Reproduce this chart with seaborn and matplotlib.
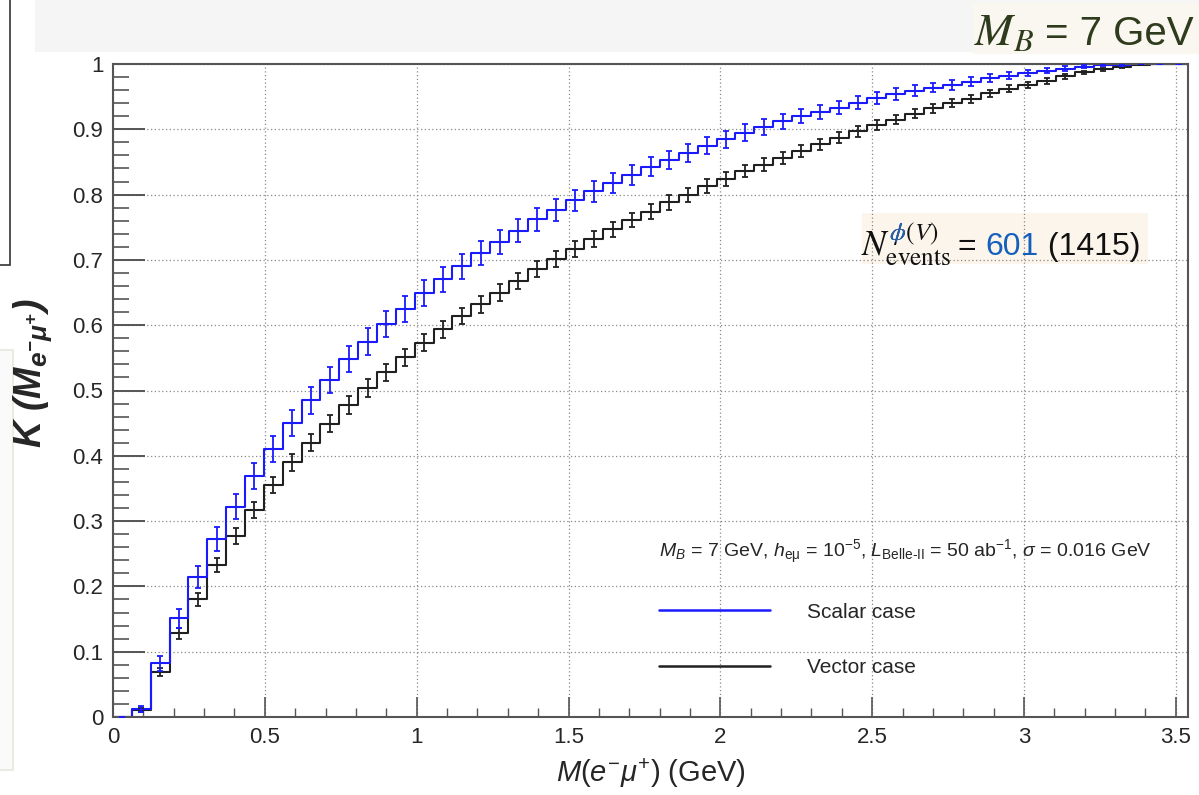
import numpy as np
import pandas as pd
import matplotlib
matplotlib.use("Agg")
import matplotlib.pyplot as plt
from matplotlib.lines import Line2D
from matplotlib.patches import Rectangle
from matplotlib.transforms import Bbox
from matplotlib.ticker import FixedLocator, FixedFormatter, MultipleLocator
import seaborn as sns

# ---------------- data ----------------
x_range = (0.0, 3.54)
n_bins = 57

scalar_k = [0.000, 0.012, 0.082, 0.151, 0.214, 0.272, 0.322, 0.369, 0.410, 0.450,
            0.485, 0.516, 0.548, 0.575, 0.602, 0.625, 0.649, 0.670, 0.690, 0.710,
            0.727, 0.745, 0.762, 0.776, 0.791, 0.805, 0.818, 0.830, 0.843, 0.853,
            0.864, 0.875, 0.885, 0.895, 0.904, 0.912, 0.920, 0.927, 0.933, 0.941,
            0.948, 0.954, 0.959, 0.964, 0.968, 0.973, 0.978, 0.982, 0.986, 0.990,
            0.993, 0.996, 0.998, 0.999, 1.000, 1.000, 1.000]
scalar_err = [0.0000, 0.0044, 0.0112, 0.0146, 0.0167, 0.0182, 0.0191, 0.0197, 0.0201, 0.0203,
              0.0204, 0.0204, 0.0203, 0.0202, 0.0200, 0.0198, 0.0195, 0.0192, 0.0189, 0.0185,
              0.0182, 0.0178, 0.0174, 0.0170, 0.0166, 0.0162, 0.0157, 0.0153, 0.0148, 0.0144,
              0.0140, 0.0135, 0.0130, 0.0125, 0.0120, 0.0116, 0.0111, 0.0106, 0.0102, 0.0096,
              0.0091, 0.0085, 0.0081, 0.0076, 0.0072, 0.0066, 0.0060, 0.0054, 0.0048, 0.0041,
              0.0034, 0.0026, 0.0018, 0.0013, 0.0000, 0.0000, 0.0000]

vector_k = [0.000, 0.011, 0.069, 0.128, 0.180, 0.233, 0.277, 0.317, 0.355, 0.390,
            0.420, 0.449, 0.478, 0.504, 0.528, 0.551, 0.573, 0.594, 0.614, 0.632,
            0.650, 0.668, 0.686, 0.701, 0.717, 0.732, 0.747, 0.761, 0.774, 0.788,
            0.800, 0.813, 0.824, 0.836, 0.846, 0.856, 0.867, 0.877, 0.887, 0.897,
            0.906, 0.915, 0.924, 0.932, 0.940, 0.947, 0.955, 0.962, 0.968, 0.974,
            0.981, 0.987, 0.992, 0.996, 0.999, 1.000, 1.000]
vector_err = [0.0000, 0.0028, 0.0067, 0.0089, 0.0102, 0.0112, 0.0119, 0.0124, 0.0127, 0.0130,
              0.0131, 0.0132, 0.0133, 0.0133, 0.0133, 0.0132, 0.0132, 0.0131, 0.0129, 0.0128,
              0.0127, 0.0125, 0.0123, 0.0122, 0.0120, 0.0118, 0.0116, 0.0113, 0.0111, 0.0109,
              0.0106, 0.0104, 0.0101, 0.0098, 0.0096, 0.0093, 0.0090, 0.0087, 0.0084, 0.0081,
              0.0078, 0.0074, 0.0070, 0.0067, 0.0063, 0.0060, 0.0055, 0.0051, 0.0047, 0.0042,
              0.0036, 0.0030, 0.0024, 0.0017, 0.0008, 0.0000, 0.0000]

cases = ["Scalar case", "Vector case"]
case_colors = ["#1a1aff", "#202020"]

x_tick_values = [0, 0.5, 1, 1.5, 2, 2.5, 3, 3.5]
x_tick_labels = ["0", "0.5", "1", "1.5", "2", "2.5", "3", "3.5"]
y_tick_values = [0, 0.1, 0.2, 0.3, 0.4, 0.5, 0.6, 0.7, 0.8, 0.9, 1.0]
y_tick_labels = ["0", "0.1", "0.2", "0.3", "0.4", "0.5", "0.6", "0.7", "0.8", "0.9", "1"]

x_label = r"$M(e^{-}\mu^{+})$ (GeV)"
y_label = r"$\mathbf{K\ (M_{e^{-}\mu^{+}})}$"
legend_header = (r"$M_B$ = 7 GeV, $h_{\mathrm{e\mu}}$ = 10$^{-5}$, "
                 r"$L_{\text{Belle-II}}$ = 50 ab$^{-1}$, $\sigma$ = 0.016 GeV")
corner_symbol = r"$M_B$"
corner_value = "= 7 GeV"
n_events_label = r"$N^{\phi(V)}_{\mathrm{events}}$"
n_events_main = "601"
n_events_alt = "(1415)"

# ---------------- style ----------------
sns.set_theme(style="white")
plt.rcParams["font.family"] = ["Liberation Sans", "DejaVu Sans"]
plt.rcParams["mathtext.fontset"] = "custom"
plt.rcParams["mathtext.rm"] = "Liberation Sans"
plt.rcParams["mathtext.it"] = "Liberation Sans:italic"
plt.rcParams["mathtext.bf"] = "Liberation Sans:italic:bold"

W, H = 1199, 795
fig = plt.figure(figsize=(W / 100, H / 100), dpi=100)
fig.patch.set_facecolor("white")

def fx(px):
    return px / W

def fy(py):
    return 1 - py / H

ax = fig.add_axes([fx(113), fy(717), fx(1188) - fx(113), fy(64) - fy(717)])
ax.set_facecolor("none")
ax.set_zorder(2)

# slide decorations (background panels)
fig.add_artist(Rectangle((fx(35), fy(52)), fx(1199) - fx(35), fy(0) - fy(52),
                         transform=fig.transFigure, fc="#f5f5f5", ec="none", zorder=0))
fig.add_artist(Rectangle((fx(973), fy(54)), fx(1199) - fx(973), fy(3) - fy(54),
                         transform=fig.transFigure, fc="#faf6f0", ec="none", zorder=0.5))
fig.add_artist(Rectangle((fx(862), fy(264)), fx(1148) - fx(862), fy(213) - fy(264),
                         transform=fig.transFigure, fc="#fcf5ec", ec="none", zorder=0.5))
fig.add_artist(Rectangle((fx(-5), fy(265)), fx(10) + fx(5), fy(-5) - fy(265),
                         transform=fig.transFigure, fc="white", ec="#333333", lw=1.2, zorder=0.5))
fig.add_artist(Rectangle((fx(-5), fy(770)), fx(13) + fx(5), fy(350) - fy(770),
                         transform=fig.transFigure, fc="#fafafa", ec="#e6e9dc", lw=1.2, zorder=0.5))

# ---------------- data frame + plotting ----------------
edges = np.linspace(x_range[0], x_range[1], n_bins + 1)
centers = 0.5 * (edges[:-1] + edges[1:])

df = pd.DataFrame({
    "M": np.concatenate([centers, centers]),
    "K": np.concatenate([scalar_k, vector_k]),
    "err": np.concatenate([scalar_err, vector_err]),
    "case": [cases[0]] * n_bins + [cases[1]] * n_bins,
})
palette = dict(zip(cases, case_colors))

sns.histplot(data=df, x="M", weights="K", hue="case", hue_order=cases,
             bins=n_bins, binrange=x_range,
             element="step", fill=False, palette=palette, legend=False,
             linewidth=1.5, ax=ax)

for case in cases[::-1]:
    sub = df[df["case"] == case]
    ax.errorbar(sub["M"], sub["K"], yerr=sub["err"], fmt="none",
                ecolor=palette[case], elinewidth=1.3, capsize=2.2, capthick=1.3,
                zorder=3)

# ---------------- axes cosmetics (ROOT-like) ----------------
ax.set_xlim(*x_range)
ax.set_ylim(0, 1)
ax.xaxis.set_major_locator(FixedLocator(x_tick_values))
ax.xaxis.set_major_formatter(FixedFormatter(x_tick_labels))
ax.yaxis.set_major_locator(FixedLocator(y_tick_values))
ax.yaxis.set_major_formatter(FixedFormatter(y_tick_labels))
ax.xaxis.set_minor_locator(MultipleLocator(0.1))
ax.yaxis.set_minor_locator(MultipleLocator(0.02))
ax.tick_params(axis="both", which="both", direction="in", color="#555555",
               bottom=True, left=True, top=False, right=False)
ax.tick_params(axis="y", which="major", length=23, width=1.4, pad=7, labelsize=16)
ax.tick_params(axis="y", which="minor", length=11.5, width=1.2)
ax.tick_params(axis="x", which="major", length=14.5, width=1.2, pad=7, labelsize=16)
ax.tick_params(axis="x", which="minor", length=6.5, width=1.0)
ax.grid(True, which="major", linestyle=(0, (1, 2)), color="#8a8a8a", linewidth=0.9)
for s in ax.spines.values():
    s.set_color("#555555")
    s.set_linewidth(1.5)

ax.set_xlabel(x_label, fontsize=21, labelpad=6)
ax.set_ylabel(y_label, fontsize=27)
ax.yaxis.set_label_coords(-0.055, 0.527)

handles = [Line2D([], [], color=c, lw=1.8) for c in case_colors]
leg = ax.legend(handles, cases, title=legend_header, loc="upper left",
                bbox_to_anchor=(0.508, 0.274), frameon=False, fontsize=15,
                title_fontsize=14, alignment="left", handlelength=5.3,
                handletextpad=1.8, labelspacing=1.75, borderpad=0, borderaxespad=0)

# ---------------- slide annotations ----------------
base_y = fy(255)
ne_kw = dict(ha="left", va="baseline", fontsize=26, math_fontfamily="stix")
t_black = fig.text(fx(861), base_y, n_events_label, color="#111111", zorder=4, **ne_kw)
t_blue = fig.text(fx(861), base_y, n_events_label, color="#1f63b8", zorder=5, **ne_kw)

# colour only the phi glyph blue: clip the blue copy to the phi region
renderer = fig.canvas.get_renderer()
probe_n = fig.text(fx(861), base_y, r"$N$", **ne_kw)
probe_nphi = fig.text(fx(861), base_y, r"$N^{\phi}$", **ne_kw)
bb_n = probe_n.get_window_extent(renderer)
bb_nphi = probe_nphi.get_window_extent(renderer)
bb_full = t_black.get_window_extent(renderer)
base_disp = fig.transFigure.transform((0, base_y))[1]
t_blue.set_clip_box(Bbox.from_extents(bb_n.x1 - 1, base_disp + 13,
                                      bb_nphi.x1 + 0.5, bb_full.y1 + 2))
t_blue.set_clip_on(True)
probe_n.remove()
probe_nphi.remove()

t_eq = fig.text(fx(958), base_y, "= ", ha="left", va="baseline", fontsize=23,
                color="#111111", zorder=4)
t_n = ax.annotate(n_events_main, xy=(1, 0), xycoords=t_eq, ha="left", va="bottom",
                  fontsize=23, color="#1560bd", annotation_clip=False)
ax.annotate(" " + n_events_alt, xy=(1, 0), xycoords=t_n, ha="left", va="bottom",
            fontsize=23, color="#111111", annotation_clip=False)

fig.text(fx(974), fy(45), corner_symbol, ha="left", va="baseline", fontsize=33,
         color="#2e3b1c", math_fontfamily="stix", zorder=3)
fig.text(fx(1194), fy(45), corner_value, ha="right", va="baseline", fontsize=29,
         color="#2e3b1c", zorder=3)

fig.savefig("out.png", dpi=100, facecolor="white")
